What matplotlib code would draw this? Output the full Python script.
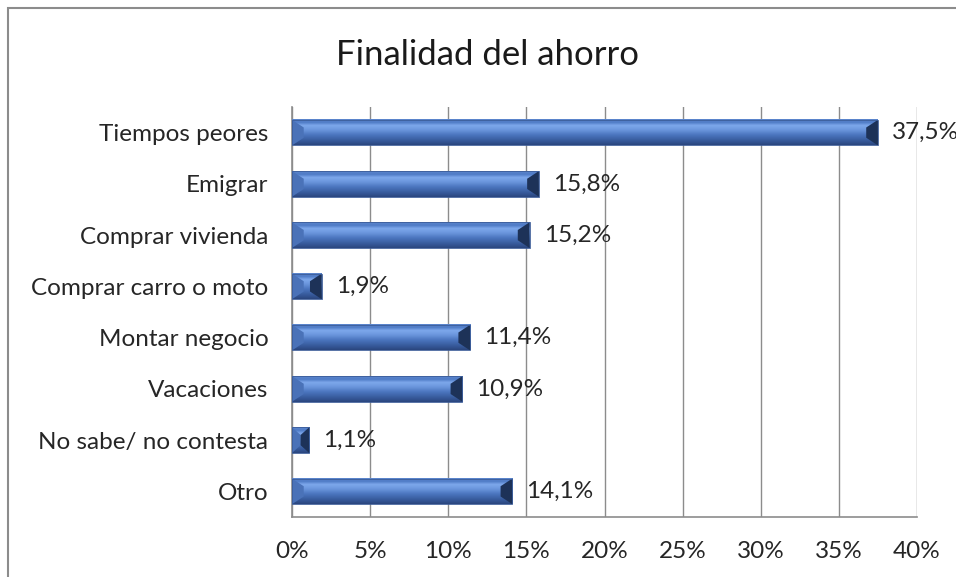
import numpy as np
import matplotlib.pyplot as plt
from matplotlib.colors import LinearSegmentedColormap
from matplotlib.patches import Polygon, Rectangle

categorias = ['Tiempos peores', 'Emigrar', 'Comprar vivienda', 'Comprar carro o moto',
              'Montar negocio', 'Vacaciones', 'No sabe/ no contesta', 'Otro']
valores = [37.5, 15.8, 15.2, 1.9, 11.4, 10.9, 1.1, 14.1]
ticks_x = [0, 5, 10, 15, 20, 25, 30, 35, 40]

plt.rcParams['font.family'] = ['Lato', 'DejaVu Sans']
fs = 17.5

fig = plt.figure(figsize=(9.56, 5.77), dpi=100)
fig.patches.append(Rectangle((8 / 956, -0.1), 1.2, 1 - 8 / 577 + 0.1, transform=fig.transFigure,
                             fill=False, edgecolor='#8c8c8c', linewidth=1.5))
ax = fig.add_axes([292 / 956, 1 - 517 / 577, 625 / 956, 410 / 577])

# bevel gradient, top to bottom
grad = LinearSegmentedColormap.from_list('bev', [
    (0.0, '#5c86cc'), (0.12, '#4f7bc6'), (0.24, '#7ea8ec'), (0.42, '#6a95dc'),
    (0.62, '#4a74bd'), (0.84, '#375a9b'), (1.0, '#2a467e')])
h = 0.5
img = np.linspace(0, 1, 64).reshape(-1, 1)
bx = 0.75
by = 0.15
for i, v in enumerate(valores):
    top = i - h / 2
    bot = i + h / 2
    ax.imshow(img, cmap=grad, aspect='auto', extent=(0, v, bot, top), zorder=3,
              interpolation='bilinear')
    e = min(bx, v / 2)
    # left end bevel
    ax.add_patch(Polygon([(0, top), (e, top + by), (e, bot - by), (0, bot)],
                         closed=True, facecolor='#4a72b8', edgecolor='none', zorder=4))
    # right end bevel
    ax.add_patch(Polygon([(v, top), (v - e, top + by), (v - e, bot - by), (v, bot)],
                         closed=True, facecolor='#1d3258', edgecolor='none', zorder=4))
    ax.add_patch(Rectangle((0, top), v, h, fill=False, edgecolor='#3b5c98',
                           linewidth=0.6, zorder=5))
    ax.text(v + 0.9, i, f'{v:.1f}%'.replace('.', ','), va='center', ha='left',
            fontsize=fs, color='#262626', zorder=6, clip_on=False)

ax.set_xlim(0, 40)
ax.set_ylim(len(categorias) - 0.5, -0.5)
ax.set_xticks(ticks_x)
ax.set_xticklabels([f'{t}%' for t in ticks_x], fontsize=fs, color='#262626')
ax.set_yticks(range(len(categorias)))
ax.set_yticklabels(categorias, fontsize=fs, color='#262626')
ax.tick_params(length=0, pad=17)
ax.tick_params(axis='x', pad=17)
ax.grid(axis='x', color='#8c8c8c', linewidth=1)
ax.set_axisbelow(True)
for s in ['top', 'right']:
    ax.spines[s].set_visible(False)
for s in ['left', 'bottom']:
    ax.spines[s].set_color('#8c8c8c')
    ax.spines[s].set_linewidth(1.2)

fig.text(488 / 956, 1 - 55 / 577, 'Finalidad del ahorro', ha='center', va='center',
         fontsize=25, color='#1a1a1a')

fig.savefig('out.png', dpi=100)
